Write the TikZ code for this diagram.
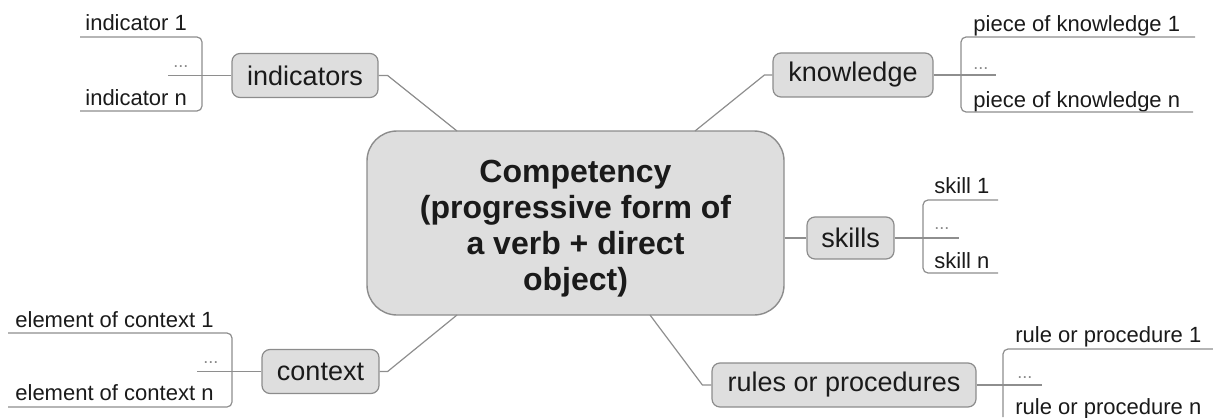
\documentclass[tikz,border=0pt]{standalone}
\usepackage{fontspec}
\setmainfont{Liberation Sans}
\definecolor{boxfill}{HTML}{DEDEDE}
\definecolor{boxdraw}{HTML}{8C8C8C}
\definecolor{linec}{HTML}{8E8E8E}
\definecolor{txt}{HTML}{1A1A1A}
\definecolor{dotc}{HTML}{8A8A8A}
\begin{document}
\begin{tikzpicture}[x=0.5pt,y=-0.5pt,
  central/.style={draw=boxdraw,fill=boxfill,rounded corners=15pt,line width=0.7pt,minimum width=208.5pt,minimum height=92pt,inner sep=0pt},
  centraltext/.style={align=center,font=\fontsize{16}{18}\selectfont\bfseries,text=txt,inner sep=0pt},
  branch/.style={draw=boxdraw,fill=boxfill,rounded corners=4pt,line width=0.6pt,minimum height=22pt,font=\fontsize{13.5}{16}\selectfont,text=txt,inner sep=0pt},
  leaf/.style={anchor=base west,inner sep=0pt,font=\fontsize{11}{13}\selectfont,text=txt},
  dotsty/.style={anchor=base west,inner sep=0pt,font=\fontsize{9}{11}\selectfont,text=dotc},
  conn/.style={draw=linec,line width=0.6pt},
  bracket/.style={draw=linec,line width=0.6pt,rounded corners=2.5pt},
]
\useasboundingbox (0,0) rectangle (1213,417);

% central and branch nodes
\node[central] (c) at (575.5,223) {};
\node[centraltext] (ct) at ([yshift=-3pt]c.center) {Competency\\(progressive form of\\a verb + direct\\object)};
\node[branch,minimum width=73pt] (ind) at (305,75.5) {indicators};
\node[branch,minimum width=80pt] (kn) at (853,75) {knowledge};
\node[branch,minimum width=43.5pt,minimum height=21pt] (sk) at (850.5,238) {skills};
\node[branch,minimum width=58.5pt] (ctx) at (320.5,371.5) {context};
\node[branch,minimum width=132pt] (rp) at (844,385) {rules or procedures};

% attachment points on the central box
\coordinate (cI) at (457,131);
\coordinate (cK) at (695,131);
\coordinate (cC) at (457,315);
\coordinate (cR) at (650,315);

% main connectors
\draw[conn] (ind.east) -- ++(9,0) -- (cI);
\draw[conn] (kn.west) -- ++(-8,0) -- (cK);
\draw[conn] (c.east |- sk.west) -- (sk.west);
\draw[conn] (ctx.east) -- ++(8,0) -- (cC);
\draw[conn] (rp.west) -- ++(-9,0) -- (cR);

% indicators leaves
\node[leaf] (i1) at (85,31) {indicator 1};
\node[leaf] (in) at (85,105) {indicator n};
\node[dotsty] (id) at (173,68) {...};
\coordinate (ia) at (80,37); \coordinate (ib) at (202,37);
\coordinate (ic) at (202,111); \coordinate (idd) at (80,111);
\coordinate (ie) at (168,75.5);
\draw[bracket] (ia) -- (ib) -- (ic) -- (idd);
\draw[conn] (ind.west) -- (ie);

% knowledge leaves
\node[leaf] (k1) at (973,32) {piece of knowledge 1};
\node[leaf] (kN) at (973,107) {piece of knowledge n};
\node[dotsty] (kd) at (973,69) {...};
\coordinate (ka) at (1195,37); \coordinate (kb) at (961,37);
\coordinate (kc) at (961,112); \coordinate (kdd) at (1193,112);
\coordinate (ke) at (996,75);
\draw[bracket] (ka) -- (kb) -- (kc) -- (kdd);
\draw[conn] (kn.east) -- (ke);

% skills leaves
\node[leaf] (s1) at (934,193) {skill 1};
\node[leaf] (sN) at (934,268) {skill n};
\node[dotsty] (sd) at (934,229) {...};
\coordinate (sa) at (998,200); \coordinate (sb) at (923,200);
\coordinate (sc) at (923,273); \coordinate (sdd) at (998,273);
\coordinate (se) at (959,238);
\draw[bracket] (sa) -- (sb) -- (sc) -- (sdd);
\draw[conn] (sk.east) -- (se);

% context leaves
\node[leaf] (c1) at (15,327) {element of context 1};
\node[leaf] (cN) at (15,400) {element of context n};
\node[dotsty] (cd) at (203,363) {...};
\coordinate (ca) at (8,333); \coordinate (cb) at (232,333);
\coordinate (cc) at (232,407); \coordinate (cdd) at (8,407);
\coordinate (ce) at (197,371.5);
\draw[bracket] (ca) -- (cb) -- (cc) -- (cdd);
\draw[conn] (ctx.west) -- (ce);

% rules leaves
\node[leaf] (r1) at (1015,342) {rule or procedure 1};
\node[leaf] (rN) at (1015,414) {rule or procedure n};
\node[dotsty] (rd) at (1017,378) {...};
\coordinate (ra) at (1213,349); \coordinate (rb) at (1003,349);
\coordinate (rc) at (1003,417);
\coordinate (re) at (1042,385);
\draw[bracket] (ra) -- (rb) -- (rc);
\draw[conn] (rp.east) -- (re);
\end{tikzpicture}
\end{document}
